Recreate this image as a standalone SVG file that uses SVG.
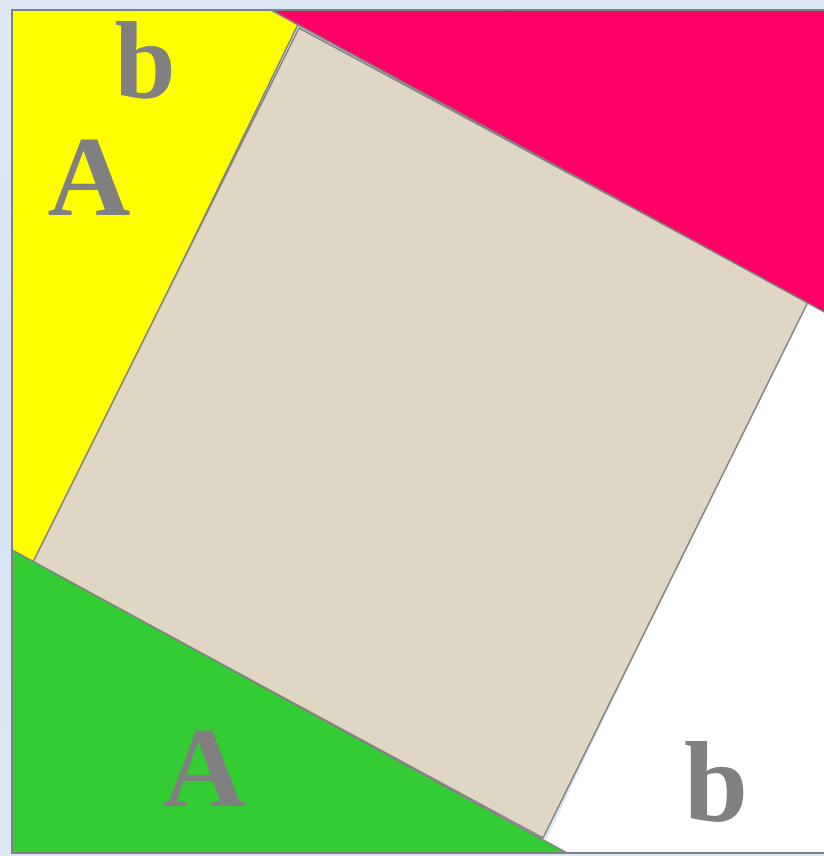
<svg xmlns="http://www.w3.org/2000/svg" width="824" height="856" viewBox="0 0 824 856">
<defs>
<linearGradient id="bg" x1="0" y1="0" x2="0" y2="1">
<stop offset="0" stop-color="#dfe9f6"/>
<stop offset="0.5" stop-color="#d5e3f3"/>
<stop offset="1" stop-color="#dde8f5"/>
</linearGradient>
</defs>
<style>
.edge{stroke:#808080;stroke-width:1.6;stroke-linejoin:round}
.lbl{font-family:"Liberation Serif","Times New Roman",serif;font-weight:bold;font-size:115px;fill:#808080;text-anchor:middle}
</style>
<rect x="0" y="0" width="824" height="856" fill="url(#bg)"/>
<g id="white-triangle">
<polygon points="540,853 860,853 860,290 808,290" fill="#ffffff"/>
</g>
<g id="yellow-triangle">
<polygon class="edge" points="12,10 305,10 12,612" fill="#ffff00"/>
</g>
<g id="square">
<polygon class="edge" points="299,28 808,302 543,838 33,562" fill="#dfd6c4"/>
</g>
<g id="green-triangle">
<polygon class="edge" points="12,550 567,853 12,853" fill="#33cc33"/>
</g>
<g id="red-triangle">
<polygon class="edge" points="271,10 870,10 870,337" fill="#ff0066"/>
</g>
<g id="frame">
<polyline points="860,853 12,853 12,10 860,10" fill="none" stroke="#808080" stroke-width="2"/>
</g>
<g id="labels">
<text class="lbl" x="145" y="98" style="font-size:110px">b</text>
<text class="lbl" x="89" y="215">A</text>
<text class="lbl" x="204" y="806">A</text>
<text class="lbl" x="716" y="821">b</text>
</g>
</svg>
